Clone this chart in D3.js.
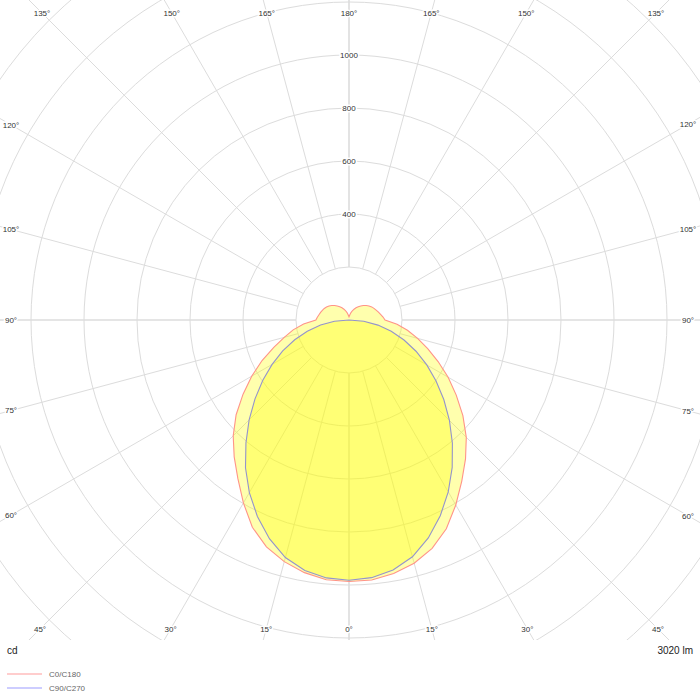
<!DOCTYPE html>
<html><head><meta charset="utf-8">
<script src="https://cdn.jsdelivr.net/npm/d3@7"></script>
<style>body{margin:0;background:#fff}svg{display:block}</style>
</head><body>
<svg id="chart" width="700" height="700"></svg>
<script>
// ---- data ----
const gammaAngles = [0,5,10,15,20,25,30,35,40,45,50,55,60,65,70,75,80,85,90,95,100,105,110,115,120,125,130,135,140,145,150,155,160,165,170,175,180];
const c0Values   = [987,985,971,950,917,869,806,742,684,626,561,494,432,371,316,268,224,182,136,129,121,115,109,104,99,92,85,77,69,61,53,45,37,29,21,15,12];
const c180Values = [987,984,968,944,911,863,797,731,674,618,556,488,424,362,302,253,214,172,125,120,115,111,107,103,98,92,85,77,69,61,53,45,37,29,21,15,12];
const c90Values  = [982,976,958,925,875,815,749,679,607,536,467,401,339,279,221,165,111,56,0,0,0,0,0,0,0,0,0,0,0,0,0,0,0,0,0,0,0];
const c270Values = [983,977,960,928,878,818,752,681,605,533,463,397,335,276,218,163,109,55,0,0,0,0,0,0,0,0,0,0,0,0,0,0,0,0,0,0,0];
const gridCircleValues = [200,400,600,800,1000,1200,1400,1600];
const radialTickLabels = [400,600,800,1000];
const spokeGammas = [0,15,30,45,60,75,90,105,120,135,150,165,180];
const seriesNames = ["C0/C180","C90/C270"];
const unitLabel = "cd";
const fluxLabel = "3020 lm";

// ---- layout ----
const W = 700, H = 700, cx = 349, cy = 320;
const plotBottom = 640;
const labelBox = {l: 11, r: 688, t: 13, b: 629};
const rScale = d3.scaleLinear().domain([0, 1000]).range([0, 265]);
const font = "'Liberation Sans', Arial, sans-serif";
const svg = d3.select("#chart");
const rad = g => g * Math.PI / 180;

svg.append("defs").append("clipPath").attr("id","plotclip")
  .append("rect").attr("x",0).attr("y",0).attr("width",W).attr("height",plotBottom);

const grid = svg.append("g").attr("clip-path","url(#plotclip)");
grid.selectAll("circle.g").data(gridCircleValues).join("circle")
  .attr("cx",cx).attr("cy",cy).attr("r",d=>rScale(d))
  .attr("fill","none").attr("stroke","#dcdcdc").attr("stroke-width",1);

const spokes = [];
spokeGammas.forEach(g => {
  spokes.push({g, s: 1});
  if (g !== 0 && g !== 180) spokes.push({g, s: -1});
});
grid.selectAll("line.sp").data(spokes).join("line")
  .attr("x1",d=>cx + d.s*rScale(200)*Math.sin(rad(d.g)))
  .attr("y1",d=>cy + rScale(200)*Math.cos(rad(d.g)))
  .attr("x2",d=>cx + d.s*rScale(2200)*Math.sin(rad(d.g)))
  .attr("y2",d=>cy + rScale(2200)*Math.cos(rad(d.g)))
  .attr("stroke","#dcdcdc")
  .attr("stroke-width",d=> (d.g % 90 === 0) ? 1.6 : 1);

// ---- curves ----
function loopPoints(rightVals, leftVals) {
  const pts = [];
  gammaAngles.forEach((g,i) => pts.push({theta: Math.PI - rad(g), v: rightVals[i]}));
  for (let i = gammaAngles.length - 2; i >= 1; i--) {
    pts.push({theta: Math.PI + rad(gammaAngles[i]), v: leftVals[i]});
  }
  return pts;
}
const radial = d3.lineRadial().angle(d=>d.theta).radius(d=>rScale(d.v)).curve(d3.curveLinearClosed);
const curves = svg.append("g").attr("transform",`translate(${cx},${cy})`);
curves.append("path").attr("d", radial(loopPoints(c0Values, c180Values)))
  .attr("fill","#ffff00").attr("fill-opacity",0.32)
  .attr("stroke","#ff9488").attr("stroke-width",1.1);
curves.append("path").attr("d", radial(loopPoints(c90Values, c270Values)))
  .attr("fill","#ffff00").attr("fill-opacity",0.32)
  .attr("stroke","#9494cc").attr("stroke-width",1.1);

// ---- angle labels ----
function labelPos(g, s) {
  const dx = s*Math.sin(rad(g)), dy = Math.cos(rad(g));
  let t = Infinity;
  if (dx > 1e-9) t = Math.min(t, (labelBox.r - cx)/dx);
  if (dx < -1e-9) t = Math.min(t, (labelBox.l - cx)/dx);
  if (dy > 1e-9) t = Math.min(t, (labelBox.b - cy)/dy);
  if (dy < -1e-9) t = Math.min(t, (labelBox.t - cy)/dy);
  return [cx + t*dx, cy + t*dy];
}
svg.append("g").selectAll("text").data(spokes).join("text")
  .attr("x",d=>labelPos(d.g,d.s)[0]).attr("y",d=>labelPos(d.g,d.s)[1])
  .attr("text-anchor","middle").attr("dy","0.35em")
  .attr("font-family",font).attr("font-size",8).attr("fill","#333")
  .attr("stroke","#fff").attr("stroke-width",3).attr("paint-order","stroke")
  .text(d=>d.g + "°");

svg.append("g").selectAll("text").data(radialTickLabels).join("text")
  .attr("x",cx).attr("y",d=>cy - rScale(d))
  .attr("text-anchor","middle").attr("dy","0.35em")
  .attr("font-family",font).attr("font-size",8).attr("fill","#333")
  .attr("stroke","#fff").attr("stroke-width",3).attr("paint-order","stroke")
  .text(d=>d);

// ---- footer ----
svg.append("text").attr("x",7).attr("y",650).attr("dy","0.35em")
  .attr("font-family",font).attr("font-size",10).attr("fill","#222").text(unitLabel);
svg.append("text").attr("x",693).attr("y",650).attr("dy","0.35em").attr("text-anchor","end")
  .attr("font-family",font).attr("font-size",10).attr("fill","#222").text(fluxLabel);

const legendColors = ["#ffbcbc","#bcbcff"];
const lg = svg.append("g").selectAll("g").data(seriesNames).join("g")
  .attr("transform",(d,i)=>`translate(7,${674 + i*14})`);
lg.append("line").attr("x1",0).attr("x2",35).attr("y1",0).attr("y2",0)
  .attr("stroke",(d,i)=>legendColors[i]).attr("stroke-width",1.6);
lg.append("text").attr("x",42).attr("y",0).attr("dy","0.35em")
  .attr("font-family",font).attr("font-size",8).attr("fill","#666").text(d=>d);
</script>
</body></html>
